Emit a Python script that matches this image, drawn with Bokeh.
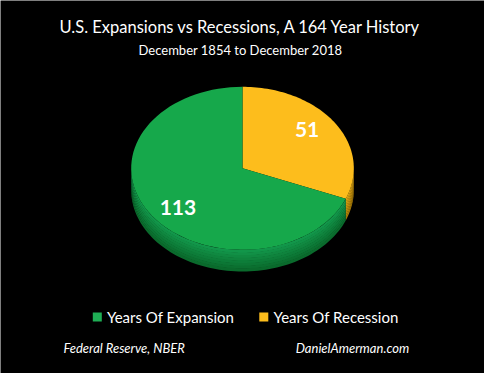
import numpy as np
from bokeh.plotting import figure
from bokeh.models import Range1d
from bokeh.core.properties import value
from bokeh.embed import file_html
from bokeh.resources import INLINE

# ---- data ----
categories = ["Years Of Recession", "Years Of Expansion"]
years = [51, 113]
top_colors = ["#fdbd1c", "#16a84b"]
side_colors_light = ["#dca313", "#12964a"]
side_colors_dark = ["#a77a06", "#0a6a2c"]
legend_labels = ["Years Of Expansion", "Years Of Recession"]
legend_colors = ["#1fae55", "#fdbd1c"]
title_text = "U.S. Expansions vs Recessions, A 164 Year History"
subtitle_text = "December 1854 to December 2018"
source_left = "Federal Reserve, NBER"
source_right = "DanielAmerman.com"

# ---- layout ----
CX, CY, RX, RY, DEPTH = 250, 175, 115, 85, 22
FONT = "Lato"

p = figure(width=484, height=373, x_range=Range1d(0, 500), y_range=Range1d(389, 0),
           output_backend="svg", toolbar_location=None, min_border=0,
           x_axis_location=None, y_axis_location=None,
           background_fill_color="black", border_fill_color="black",
           outline_line_color=None)
p.grid.visible = False


def arc(t0, t1, n=80):
    t = np.radians(np.linspace(t0, t1, n))
    return CX + RX * np.sin(t), CY - RY * np.cos(t)


def mix(c1, c2, f):
    a = [int(c1[i:i + 2], 16) for i in (1, 3, 5)]
    b = [int(c2[i:i + 2], 16) for i in (1, 3, 5)]
    return "#%02x%02x%02x" % tuple(int(round(a[k] + (b[k] - a[k]) * f)) for k in range(3))


total = sum(years)
starts, ends = [], []
acc = 0.0
for v in years:
    starts.append(acc)
    acc += 360.0 * v / total
    ends.append(acc)

# side (depth) of pie
NB = 8
for i, (s, e) in enumerate(zip(starts, ends)):
    a, b = max(s, 90), min(e, 270)
    if a >= b:
        continue
    xt, yt = arc(a, b)
    xs, ys, cs = [], [], []
    for k in range(NB):
        d0 = DEPTH * k / NB
        d1 = DEPTH * (k + 1) / NB + 0.6
        xs.append(np.concatenate([xt, xt[::-1]]))
        ys.append(np.concatenate([yt + d0, (yt + d1)[::-1]]))
        cs.append(mix(side_colors_light[i], side_colors_dark[i], k / (NB - 1)))
    p.patches(xs, ys, fill_color=cs, line_color=None)

# top face
xs, ys = [], []
for s, e in zip(starts, ends):
    xa, ya = arc(s, e)
    xs.append(np.concatenate([[CX], xa]))
    ys.append(np.concatenate([[CY], ya]))
p.patches(xs, ys, fill_color=top_colors, line_color=None)

# value labels
mids = np.radians([(s + e) / 2 for s, e in zip(starts, ends)])
lx = CX + RX * 0.70 * np.sin(mids)
ly = CY - RY * 0.86 * np.cos(mids)
p.text(lx, ly, text=[str(v) for v in years], text_color="white",
       text_font=value(FONT), text_font_style="bold", text_font_size="21px",
       text_align="center", text_baseline="middle")

# titles
p.text([248], [28], text=[title_text], text_color="white", text_font=value(FONT),
       text_font_size="16.5px", text_align="center", text_baseline="middle")
p.text([248], [52], text=[subtitle_text], text_color="white", text_font=value(FONT),
       text_font_size="13px", text_align="center", text_baseline="middle")

# legend
leg_x = [100, 272]
p.scatter(leg_x, [330, 330], marker="square", size=9,
          fill_color=legend_colors, line_color=None)
p.text([x + 10 for x in leg_x], [330, 330], text=legend_labels, text_color="white",
       text_font=value(FONT), text_font_size="15px", text_align="left",
       text_baseline="middle")

# footer
p.text([65, 305], [362, 362], text=[source_left, source_right], text_color="white",
       text_font=value(FONT), text_font_style="italic", text_font_size="13px",
       text_align="left", text_baseline="middle")

open("out.html", "w").write(file_html(p, INLINE))
